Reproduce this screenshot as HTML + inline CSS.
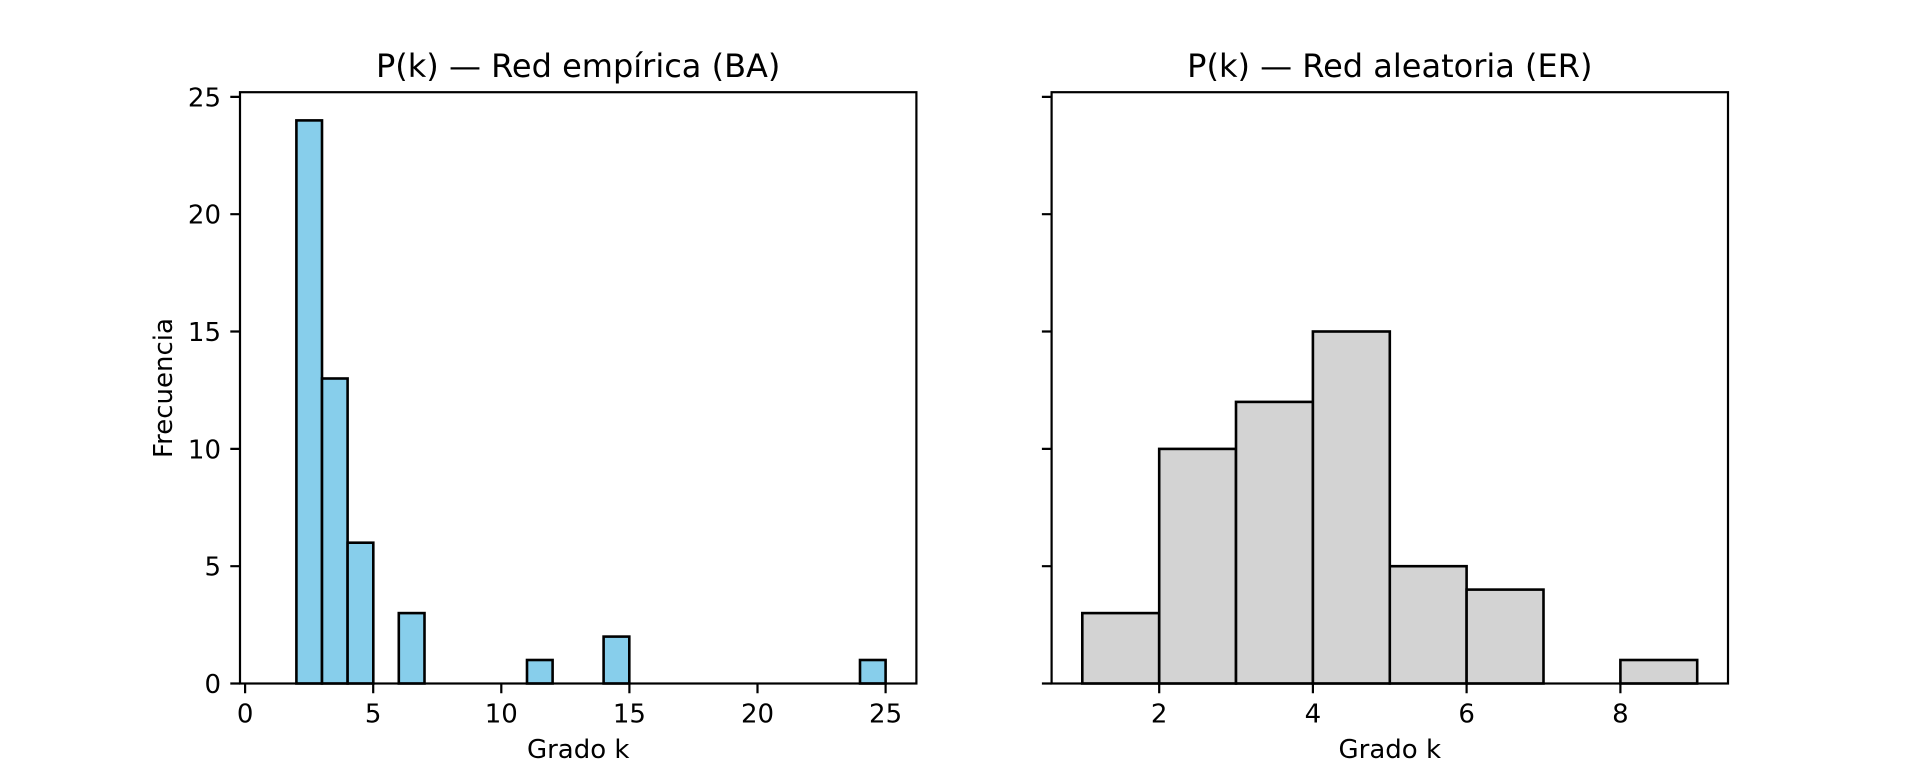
<!DOCTYPE html>
<html><head><meta charset="utf-8"><style>body{margin:0;background:#fff}svg{display:block}text{font-family:"DejaVu Sans","Liberation Sans",sans-serif;fill:#000}</style></head>
<body>
<svg width="1920" height="768" viewBox="0 0 1920 768" xmlns="http://www.w3.org/2000/svg">
<rect width="1920" height="768" fill="#fff"/>
<g stroke="#000" stroke-width="2.6" fill="#87ceeb">
<rect x="296.4" y="120.4" width="25.6" height="563.1"/>
<rect x="322.0" y="378.5" width="25.6" height="305"/>
<rect x="347.6" y="542.7" width="25.7" height="140.8"/>
<rect x="398.8" y="613.1" width="25.7" height="70.4"/>
<rect x="527.0" y="660.0" width="25.6" height="23.5"/>
<rect x="603.6" y="636.6" width="25.7" height="46.9"/>
<rect x="860.0" y="660.0" width="25.6" height="23.5"/>
</g>
<g stroke="#000" stroke-width="2.6" fill="#d3d3d3">
<rect x="1082.3" y="613.1" width="76.9" height="70.4"/>
<rect x="1159.2" y="448.9" width="76.8" height="234.6"/>
<rect x="1236.0" y="401.9" width="76.9" height="281.6"/>
<rect x="1312.9" y="331.5" width="76.9" height="352"/>
<rect x="1389.8" y="566.2" width="76.8" height="117.3"/>
<rect x="1466.6" y="589.6" width="76.9" height="93.9"/>
<rect x="1620.4" y="660.0" width="76.8" height="23.5"/>
</g>
<g fill="none" stroke="#000" stroke-width="2.2">
<rect x="240" y="92.2" width="676.4" height="591.3"/>
<rect x="1051.6" y="92.2" width="676.4" height="591.3"/>
<path d="M245.1 683.5v9.7M373.2 683.5v9.7M501.3 683.5v9.7M629.4 683.5v9.7M757.5 683.5v9.7M885.6 683.5v9.7
M1159.2 683.5v9.7M1312.9 683.5v9.7M1466.6 683.5v9.7M1620.4 683.5v9.7
M240 683.5h-9.7M240 566.2h-9.7M240 448.9h-9.7M240 331.5h-9.7M240 214.2h-9.7M240 96.9h-9.7
M1051.6 683.5h-9.7M1051.6 566.2h-9.7M1051.6 448.9h-9.7M1051.6 331.5h-9.7M1051.6 214.2h-9.7M1051.6 96.9h-9.7"/>
</g>
<g font-size="26" text-anchor="middle">
<text x="245.1" y="722.5">0</text><text x="373.2" y="722.5">5</text><text x="501.3" y="722.5">10</text><text x="629.4" y="722.5">15</text><text x="757.5" y="722.5">20</text><text x="885.6" y="722.5">25</text>
<text x="1159.2" y="722.5">2</text><text x="1312.9" y="722.5">4</text><text x="1466.6" y="722.5">6</text><text x="1620.4" y="722.5">8</text>
</g>
<g font-size="26" text-anchor="end">
<text x="221" y="693">0</text><text x="221" y="575.7">5</text><text x="221" y="458.4">10</text><text x="221" y="341">15</text><text x="221" y="223.7">20</text><text x="221" y="106.4">25</text>
</g>
<g font-size="26" text-anchor="middle">
<text x="578.2" y="758">Grado k</text>
<text x="1389.8" y="758">Grado k</text>
<text transform="translate(172,388) rotate(-90)">Frecuencia</text>
</g>
<g font-size="32" text-anchor="middle">
<text x="578.2" y="77">P(k) — Red empírica (BA)</text>
<text x="1389.8" y="77">P(k) — Red aleatoria (ER)</text>
</g>
</svg>
</body></html>
